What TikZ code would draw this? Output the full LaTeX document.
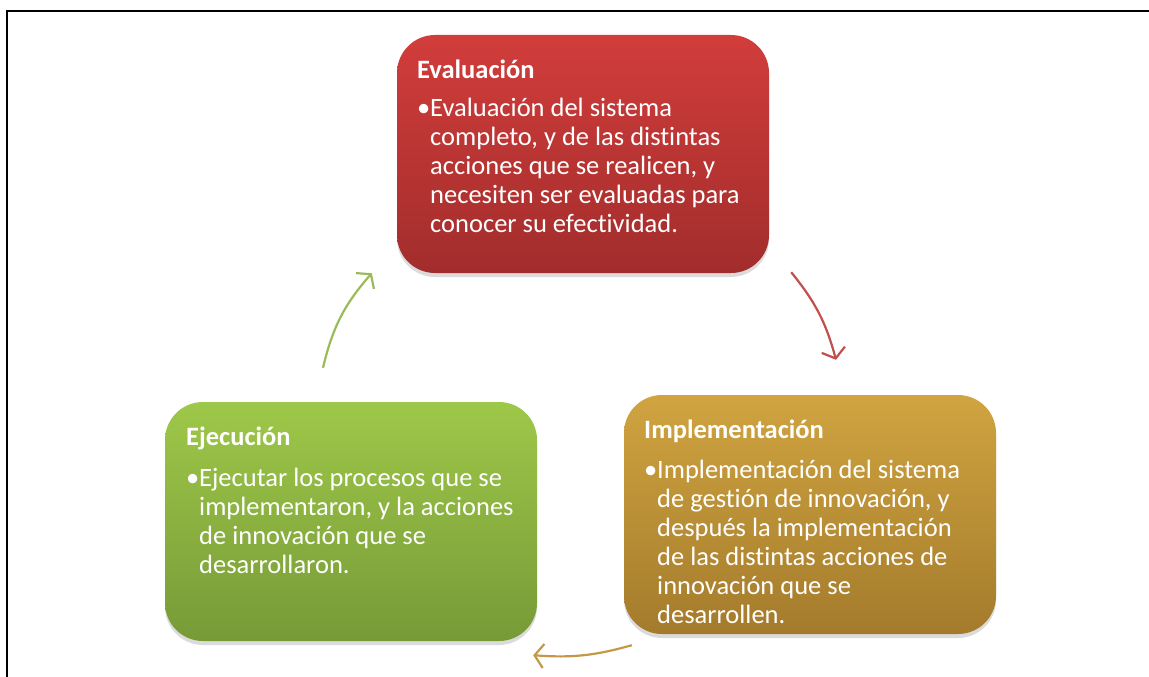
\documentclass[tikz,border=0pt]{standalone}
\usepackage{fontspec}
\setmainfont[Ligatures={NoCommon}]{Carlito}
\usetikzlibrary{arrows.meta,shadows,calc}
\definecolor{redtop}{HTML}{D13D3B}
\definecolor{redbot}{HTML}{A22D2C}
\definecolor{greentop}{HTML}{9EC849}
\definecolor{greenbot}{HTML}{779A37}
\definecolor{goldtop}{HTML}{D0A440}
\definecolor{goldbot}{HTML}{A47B2C}
\definecolor{redarrow}{HTML}{C0504D}
\definecolor{greenarrow}{HTML}{9BBB59}
\definecolor{goldarrow}{HTML}{C29A47}
\newcommand{\bul}{\makebox[13pt][l]{•}}
\newcommand{\ind}{\hspace*{13pt}}
\begin{document}
\begin{tikzpicture}[x=1pt,y=1pt,
  box/.style={rounded corners=38pt, minimum width=372pt, minimum height=238pt, inner sep=0pt,
    drop shadow={shadow xshift=0pt,shadow yshift=-4pt,opacity=0.14,fill=black}},
  txt/.style={anchor=base west, align=left, text=white, inner sep=0pt,
    font=\fontsize{26.5}{29}\selectfont},
  cyc/.style={line width=2.2pt, -{Straight Barb[length=9pt,width=24pt,line width=2.2pt]}}]
\useasboundingbox (0,0) rectangle (1149,-677);
\draw[line width=2pt] (7,-677) -- (7,-11) -- (1149,-11);

\node[box, top color=redtop, bottom color=redbot] (eval) at (583,-154) {};
\node[box, top color=greentop, bottom color=greenbot, minimum height=239pt] (ejec) at (351,-521.5) {};
\node[box, top color=goldtop, bottom color=goldbot, minimum height=239pt] (impl) at (810,-514.5) {};

\node[txt] (evalt) at (417,-232) {\textbf{Evaluación}\\[9pt]
\bul Evaluación del sistema\\
\ind completo, y de las distintas\\
\ind acciones que se realicen, y\\
\ind necesiten ser evaluadas para\\
\ind conocer su efectividad.};

\node[txt] (eject) at (186,-573) {\textbf{Ejecución}\\[12pt]
\bul Ejecutar los procesos que se\\
\ind implementaron, y la acciones\\
\ind de innovación que se\\
\ind desarrollaron.};

\node[txt] (implt) at (644,-623) {\textbf{Implementación}\\[11pt]
\bul Implementación del sistema\\
\ind de gestión de innovación, y\\
\ind después la implementación\\
\ind de las distintas acciones de\\
\ind innovación que se\\
\ind desarrollen.};

\draw[cyc, redarrow] ($(eval.south east)+(22,1)$) to[bend left=12] ($(impl.north)+(26,35)$);
\draw[cyc, goldarrow] ($(impl.south west)+(8,-11)$) to[bend left=10] ($(ejec.south east)+(-4,-14)$);
\draw[cyc, greenarrow] ($(ejec.north)+(-28,34)$) to[bend left=14] ($(eval.south west)+(-25,0)$);
\end{tikzpicture}
\end{document}
